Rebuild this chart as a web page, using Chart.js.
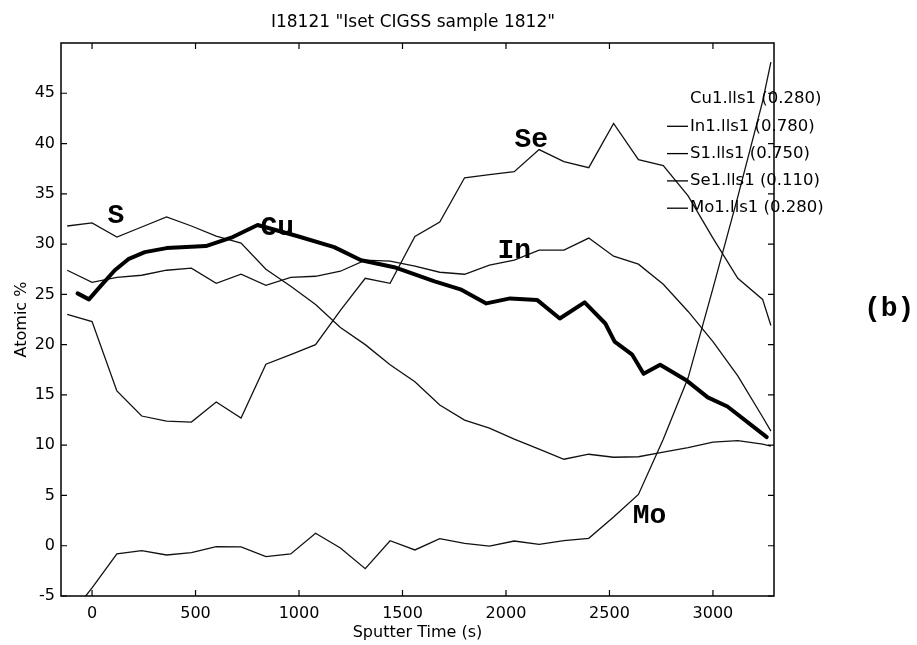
<!DOCTYPE html>
<html>
<head>
<meta charset="utf-8">
<title>I18121 Iset CIGSS sample 1812</title>
<script src="https://cdn.jsdelivr.net/npm/chart.js@4.4.1/dist/chart.umd.min.js"></script>
<style>
  html, body { margin: 0; padding: 0; background: #fff; }
  #wrap { width: 917px; height: 645px; }
</style>
</head>
<body>
<div id="wrap"><canvas id="chart" width="917" height="645"></canvas></div>
<script>
// sputter time (s) for In, S, Se, Mo
const times = [-120, 0, 120, 240, 360, 480, 600, 720, 840, 960, 1080, 1200, 1320, 1440, 1560,
  1680, 1800, 1920, 2040, 2160, 2280, 2400, 2520, 2640, 2760, 2880, 3000, 3120, 3240, 3280];

const inVals = [27.4, 26.2, 26.7, 26.9, 27.4, 27.6, 26.1, 27.0, 25.9, 26.7, 26.8, 27.3, 28.4, 28.3, 27.8,
  27.2, 27.0, 27.9, 28.4, 29.4, 29.4, 30.6, 28.8, 28.0, 26.0, 23.3, 20.3, 16.9, 12.8, 11.4];
const sVals = [31.8, 32.1, 30.7, 31.7, 32.7, 31.8, 30.8, 30.1, 27.5, 25.8, 24.0, 21.7, 20.0, 18.0, 16.3,
  14.0, 12.5, 11.7, 10.6, 9.6, 8.6, 9.1, 8.8, 8.85, 9.3, 9.75, 10.3, 10.45, 10.1, 9.9];
const seVals = [23.0, 22.3, 15.4, 12.9, 12.4, 12.3, 14.3, 12.7, 18.05, 19.0, 20.0, 23.4, 26.6, 26.1, 30.75,
  32.2, 36.6, 36.9, 37.2, 39.4, 38.2, 37.6, 42.0, 38.4, 37.8, 34.8, 30.6, 26.6, 24.5, 21.9];
const moVals = [-7.3, -4.2, -0.82, -0.49, -0.92, -0.69, -0.09, -0.12, -1.09, -0.82, 1.24, -0.22, -2.28, 0.5, -0.42,
  0.7, 0.24, -0.03, 0.47, 0.14, 0.5, 0.74, 2.85, 5.1, 10.6, 16.7, 25.6, 34.7, 44.2, 48.1];

// Cu trace (thick line) has its own time points
const cuTimes = [-70, -15, 40, 110, 175, 255, 360, 550, 680, 800, 990, 1170, 1300, 1460, 1655,
  1780, 1905, 2020, 2150, 2260, 2380, 2480, 2525, 2610, 2665, 2745, 2875, 2975, 3070, 3260];
const cuVals = [25.1, 24.5, 25.8, 27.4, 28.5, 29.2, 29.6, 29.8, 30.7, 31.9, 30.8, 29.7, 28.4, 27.7, 26.3,
  25.5, 24.1, 24.6, 24.45, 22.6, 24.2, 22.1, 20.3, 19.0, 17.1, 18.0, 16.4, 14.75, 13.85, 10.8];

// axis ticks
const xTicks = [0, 500, 1000, 1500, 2000, 2500, 3000];
const yTicks = [-5, 0, 5, 10, 15, 20, 25, 30, 35, 40, 45];

const legendLabels = ['Cu1.lls1 (0.280)', 'In1.lls1 (0.780)', 'S1.lls1 (0.750)', 'Se1.lls1 (0.110)', 'Mo1.lls1 (0.280)'];

// element names written on the curves
const curveTags = [
  { text: 'S', t: 75, v: 32.1 },
  { text: 'Cu', t: 814, v: 30.9 },
  { text: 'Se', t: 2041, v: 39.7 },
  { text: 'In', t: 1959, v: 28.6 },
  { text: 'Mo', t: 2612, v: 2.3 }
];

const toPoints = (xs, ys) => xs.map((x, i) => ({ x, y: ys[i] }));

const thin = { borderColor: '#111', borderWidth: 1.3, pointRadius: 0, tension: 0, fill: false };

const boxPlugin = {
  id: 'box',
  afterDatasetsDraw(chart) {
    const { ctx, chartArea: a, scales } = chart;
    ctx.save();
    ctx.strokeStyle = '#000';
    ctx.lineWidth = 1.5;
    ctx.strokeRect(a.left, a.top, a.right - a.left, a.bottom - a.top);

    // MATLAB style inward ticks on all four sides
    ctx.lineWidth = 1.2;
    ctx.beginPath();
    scales.x.ticks.forEach(tk => {
      const px = scales.x.getPixelForValue(tk.value);
      ctx.moveTo(px, a.bottom); ctx.lineTo(px, a.bottom - 6);
      ctx.moveTo(px, a.top); ctx.lineTo(px, a.top + 6);
    });
    scales.y.ticks.forEach(tk => {
      const py = scales.y.getPixelForValue(tk.value);
      ctx.moveTo(a.left, py); ctx.lineTo(a.left + 6, py);
      ctx.moveTo(a.right, py); ctx.lineTo(a.right - 6, py);
    });
    ctx.stroke();

    // titles
    ctx.fillStyle = '#000';
    ctx.font = '17px "DejaVu Sans"';
    ctx.textAlign = 'center';
    ctx.textBaseline = 'middle';
    ctx.fillText('I18121 "Iset CIGSS sample 1812"', 413, 23);
    ctx.font = '16px "DejaVu Sans"';
    ctx.fillText('Sputter Time (s)', (a.left + a.right) / 2, 633);
    ctx.save();
    ctx.translate(22, (a.top + a.bottom) / 2);
    ctx.rotate(-Math.PI / 2);
    ctx.fillText('Atomic %', 0, 0);
    ctx.restore();

    // legend
    ctx.font = '16.5px "DejaVu Sans"';
    ctx.textAlign = 'left';
    legendLabels.forEach((lab, i) => {
      const y = 99 + i * 27.3;
      if (i > 0) {
        ctx.lineWidth = 1.3;
        ctx.beginPath();
        ctx.moveTo(667, y); ctx.lineTo(688, y);
        ctx.stroke();
      }
      ctx.fillText(lab, 690, y);
    });

    // element tags on the curves
    ctx.font = 'bold 28px "Liberation Mono"';
    ctx.textBaseline = 'alphabetic';
    curveTags.forEach(tag => {
      ctx.fillText(tag.text, scales.x.getPixelForValue(tag.t), scales.y.getPixelForValue(tag.v));
    });
    ctx.fillText('(b)', 864, 316);
    ctx.restore();
  }
};

new Chart(document.getElementById('chart'), {
  type: 'line',
  data: {
    datasets: [
      { label: 'Cu', data: toPoints(cuTimes, cuVals), borderColor: '#000', borderWidth: 4,
        borderJoinStyle: 'round', borderCapStyle: 'round', pointRadius: 0, tension: 0, fill: false },
      { label: 'In', data: toPoints(times, inVals), ...thin },
      { label: 'S', data: toPoints(times, sVals), ...thin },
      { label: 'Se', data: toPoints(times, seVals), ...thin },
      { label: 'Mo', data: toPoints(times, moVals), ...thin }
    ]
  },
  options: {
    responsive: false,
    animation: false,
    devicePixelRatio: 1,
    layout: { padding: { left: 0, right: 143, top: 43, bottom: 0 } },
    plugins: { legend: { display: false }, tooltip: { enabled: false }, title: { display: false } },
    scales: {
      x: {
        type: 'linear',
        min: -150,
        max: 3295,
        grid: { display: false, drawTicks: false },
        border: { display: false },
        ticks: { padding: 8, color: '#000', maxRotation: 0, autoSkip: false,
          font: { family: 'DejaVu Sans', size: 16 }, callback: v => String(v) },
        afterBuildTicks: s => { s.ticks = xTicks.map(v => ({ value: v })); },
        afterFit: s => { s.height = 49; }
      },
      y: {
        min: -5,
        max: 50,
        grid: { display: false, drawTicks: false },
        border: { display: false },
        ticks: { padding: 6, color: '#000', autoSkip: false,
          font: { family: 'DejaVu Sans', size: 16 }, callback: v => String(v) },
        afterBuildTicks: s => { s.ticks = yTicks.map(v => ({ value: v })); },
        afterFit: s => { s.width = 61; }
      }
    }
  },
  plugins: [boxPlugin]
});
</script>
</body>
</html>
